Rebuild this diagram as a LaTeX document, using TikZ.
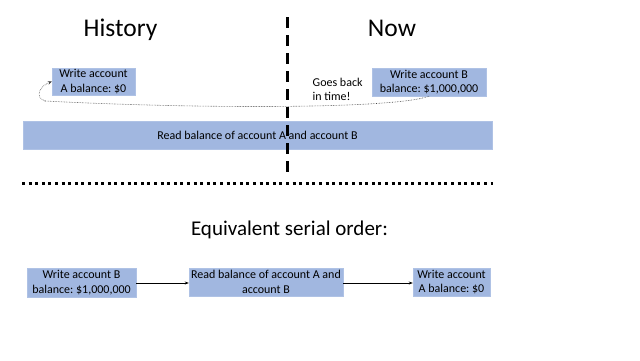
\documentclass[tikz,border=0pt]{standalone}
\usepackage{fontspec}
\setmainfont{Carlito}
\frenchspacing
\usetikzlibrary{arrows.meta}
\definecolor{boxblue}{RGB}{161,183,224}
\definecolor{curvegray}{RGB}{70,70,70}
\tikzset{
  bluebox/.style={fill=boxblue, draw=boxblue!85!white, line width=0.4pt, inner sep=0pt, align=center, font=\fontsize{12}{14.5}\selectfont},
  title/.style={inner sep=0pt, anchor=base, font=\fontsize{25.5}{30}\selectfont},
  subtitle/.style={inner sep=0pt, anchor=base, font=\fontsize{21}{25}\selectfont},
  note/.style={inner sep=0pt, align=left, font=\fontsize{12}{14.5}\selectfont},
  flow/.style={-{Stealth[length=4pt,width=3pt]}, line width=0.6pt},
  timecurve/.style={densely dotted, line width=0.6pt, color=curvegray, -{Stealth[length=4pt,width=3.5pt]}},
  divider/.style={line width=3pt, dash pattern=on 11pt off 7pt},
  hdivider/.style={line width=3pt, dash pattern=on 3pt off 3.6pt}
}
\begin{document}
\begin{tikzpicture}[x=1pt,y=-1pt]
\useasboundingbox[fill=white] (0,0) rectangle (640,360);

% titles
\node[title] (hist) at (120.5,36.5) {History};
\node[title] (now) at (392,36) {Now};

% top boxes
\node[bluebox, minimum width=83pt, minimum height=27pt] (wa) at (93.5,81.5) {Write account\\A balance: \$0};
\node[bluebox, minimum width=114pt, minimum height=28pt] (wb) at (429,82) {Write account B\\balance: \$1,000,000};
\node[bluebox, minimum width=469pt, minimum height=28pt] (rd) at (257.5,135) {Read balance of account A and account B};
\node[note, anchor=west] (goes) at (312.5,89.5) {Goes back\\in time!};

% goes-back curve
\coordinate (mid) at (45,101);
\draw[densely dotted, line width=0.6pt, color=curvegray] (wb.south) .. controls (395,109) and (200,109) .. (mid);
\draw[timecurve] (mid) .. controls (34,97) and (40,86) .. (wa.west);

% dividers
\coordinate (vtop) at (287,17);
\coordinate (vbot) at (287,177);
\draw[divider] (vtop) -- (vbot);
\coordinate (hl) at (22,183);
\coordinate (hr) at (493,183);
\draw[hdivider] (hl) -- (hr);

% serial order
\node[subtitle] (eq) at (289.5,235) {Equivalent serial order:};
\node[bluebox, minimum width=109pt, minimum height=29pt] (sb) at (81.5,282.5) {Write account B\\balance: \$1,000,000};
\node[bluebox, minimum width=154pt, minimum height=28pt] (sr) at (266,282) {Read balance of account A and\\account B};
\node[bluebox, minimum width=77pt, minimum height=28pt] (sa) at (451.5,282) {Write account\\A balance: \$0};
\draw[flow] (sb.east |- 0,283) -- (sr.west |- 0,283);
\draw[flow] (sr.east |- 0,283) -- (sa.west |- 0,283);
\end{tikzpicture}
\end{document}
